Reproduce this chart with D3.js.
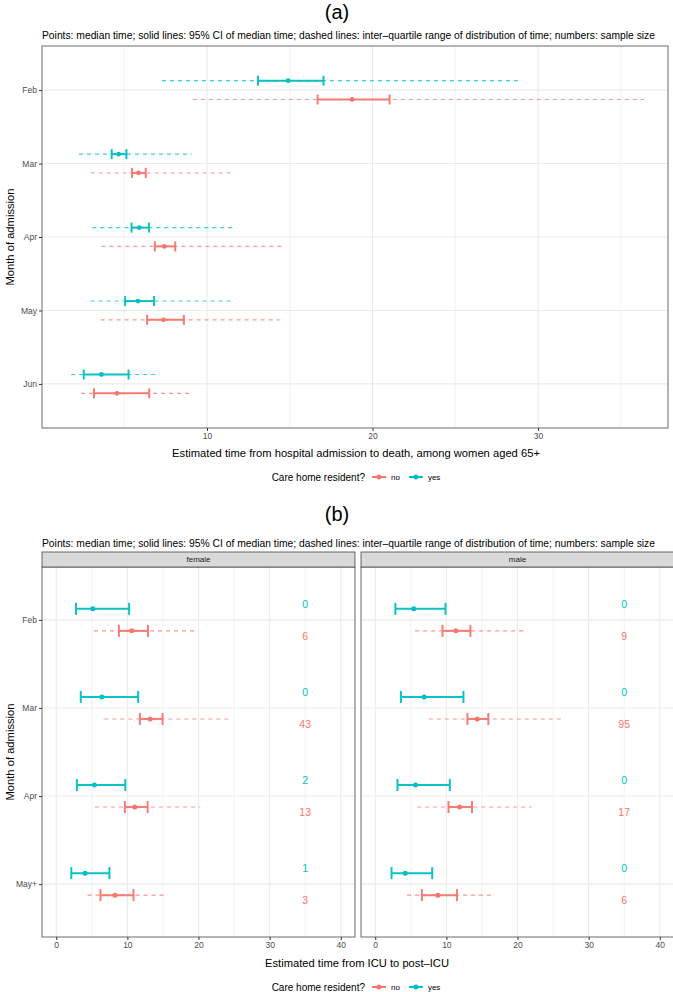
<!DOCTYPE html>
<html><head><meta charset="utf-8">
<script src="https://cdn.jsdelivr.net/npm/d3@7"></script>
<style>body{margin:0;background:#fff}svg{display:block;font-family:"Liberation Sans",Arial,sans-serif}</style>
</head><body><svg id="c" width="673" height="992"></svg>
<script>
// ---------- DATA ----------
const groups = ["no", "yes"];
const groupColors = ["#F8766D", "#00BFC4"];
const subtitle = "Points: median time; solid lines: 95% CI of median time; dashed lines: inter\u2013quartile range of distribution of time; numbers: sample size";

// panel (a)
const monthsA = ["Feb", "Mar", "Apr", "May", "Jun"];
const aYesMedian = [14.9, 4.66, 5.91, 5.83, 3.62];
const aYesCiLo   = [13.08, 4.24, 5.44, 5.05, 2.55];
const aYesCiHi   = [17.04, 5.13, 6.49, 6.80, 5.26];
const aYesIqrLo  = [7.27, 2.26, 3.07, 2.97, 1.79];
const aYesIqrHi  = [29.0, 9.07, 11.52, 11.46, 7.09];
const aNoMedian  = [18.76, 5.86, 7.42, 7.37, 4.56];
const aNoCiLo    = [16.68, 5.47, 6.85, 6.38, 3.17];
const aNoCiHi    = [21.03, 6.30, 8.08, 8.60, 6.51];
const aNoIqrLo   = [9.14, 2.97, 3.62, 3.57, 2.39];
const aNoIqrHi   = [36.4, 11.44, 14.49, 14.38, 8.91];
const aTicks = [10, 20, 30];
const aMinor = [5, 15, 25, 35];
const aDomain = [0.03, 37.85];

// panel (b)
const monthsB = ["Feb", "Mar", "Apr", "May+"];
const facets = ["female", "male"];
const fYesMedian = [5.13, 6.4, 5.37, 4.05];
const fYesCiLo   = [2.78, 3.45, 2.9, 2.12];
const fYesCiHi   = [10.25, 11.52, 9.71, 7.48];
const fYesN      = [0, 0, 2, 1];
const fNoMedian  = [10.61, 13.2, 11.04, 8.27];
const fNoCiLo    = [8.81, 11.76, 9.65, 6.22];
const fNoCiHi    = [12.9, 14.95, 12.85, 10.86];
const fNoIqrLo   = [5.31, 6.76, 5.43, 4.41];
const fNoIqrHi   = [19.41, 24.4, 20.25, 15.14];
const fNoN       = [6, 43, 13, 3];
const mYesMedian = [5.42, 6.87, 5.66, 4.22];
const mYesCiLo   = [2.83, 3.61, 3.13, 2.29];
const mYesCiHi   = [9.88, 12.4, 10.49, 8.01];
const mYesN      = [0, 0, 0, 0];
const mNoMedian  = [11.33, 14.34, 11.87, 8.8];
const mNoCiLo    = [9.46, 12.96, 10.3, 6.56];
const mNoCiHi    = [13.38, 15.9, 13.6, 11.5];
const mNoIqrLo   = [5.6, 7.53, 5.9, 4.46];
const mNoIqrHi   = [20.9, 26.2, 21.98, 16.33];
const mNoN       = [9, 95, 17, 6];
const bTicks = [0, 10, 20, 30, 40];
const bMinor = [5, 15, 25, 35];
const bDomain = [-2, 42];
const labelX = 35;

// ---------- BUILD ROWS ----------
function rows(months, med, lo, hi, ilo, ihi, n, g) {
  return months.map((m, i) => ({month: m, group: g, med: med[i], lo: lo[i], hi: hi[i],
    ilo: ilo ? ilo[i] : null, ihi: ihi ? ihi[i] : null, n: n ? n[i] : null}));
}
const dataA = [
  ...rows(monthsA, aNoMedian, aNoCiLo, aNoCiHi, aNoIqrLo, aNoIqrHi, null, "no"),
  ...rows(monthsA, aYesMedian, aYesCiLo, aYesCiHi, aYesIqrLo, aYesIqrHi, null, "yes")
];
const dataF = [
  ...rows(monthsB, fNoMedian, fNoCiLo, fNoCiHi, fNoIqrLo, fNoIqrHi, fNoN, "no"),
  ...rows(monthsB, fYesMedian, fYesCiLo, fYesCiHi, null, null, fYesN, "yes")
];
const dataM = [
  ...rows(monthsB, mNoMedian, mNoCiLo, mNoCiHi, mNoIqrLo, mNoIqrHi, mNoN, "no"),
  ...rows(monthsB, mYesMedian, mYesCiLo, mYesCiHi, null, null, mYesN, "yes")
];

const svg = d3.select("#c");
const color = d3.scaleOrdinal(groups, groupColors);
const tickCol = "#4D4D4D", borderCol = "#333333", gridCol = "#EBEBEB";

function panel(g, x, y, data, opts) {
  const [x0, x1] = x.range(), [y0, y1] = y.range();
  const step = y.step();
  const dodge = d => (d.group === "yes" ? -1 : 1) * step * opts.dodge;
  g.selectAll(".mg").data(opts.minor).join("line")
    .attr("x1", d => x(d)).attr("x2", d => x(d)).attr("y1", y0).attr("y2", y1)
    .attr("stroke", gridCol).attr("stroke-width", 0.6);
  g.selectAll(".Mg").data(opts.ticks).join("line")
    .attr("x1", d => x(d)).attr("x2", d => x(d)).attr("y1", y0).attr("y2", y1)
    .attr("stroke", gridCol).attr("stroke-width", 1.1);
  g.selectAll(".hg").data(y.domain()).join("line")
    .attr("x1", x0).attr("x2", x1).attr("y1", d => y(d)).attr("y2", d => y(d))
    .attr("stroke", gridCol).attr("stroke-width", 1.1);
  g.selectAll(".iqr").data(data.filter(d => d.ilo != null)).join("line")
    .attr("x1", d => x(d.ilo)).attr("x2", d => x(d.ihi))
    .attr("y1", d => y(d.month) + dodge(d)).attr("y2", d => y(d.month) + dodge(d))
    .attr("stroke", d => color(d.group)).attr("stroke-width", 1.1)
    .attr("stroke-dasharray", "4,4").attr("opacity", 0.75);
  const ci = g.selectAll(".ci").data(data).join("g").attr("opacity", 0.95);
  ci.append("line").attr("x1", d => x(d.lo)).attr("x2", d => x(d.hi))
    .attr("y1", d => y(d.month) + dodge(d)).attr("y2", d => y(d.month) + dodge(d))
    .attr("stroke", d => color(d.group)).attr("stroke-width", 2);
  ["lo", "hi"].forEach(k => {
    ci.append("line").attr("x1", d => x(d[k])).attr("x2", d => x(d[k]))
      .attr("y1", d => y(d.month) + dodge(d) - opts.cap).attr("y2", d => y(d.month) + dodge(d) + opts.cap)
      .attr("stroke", d => color(d.group)).attr("stroke-width", 2);
  });
  g.selectAll(".pt").data(data).join("circle")
    .attr("cx", d => x(d.med)).attr("cy", d => y(d.month) + dodge(d)).attr("r", opts.r)
    .attr("fill", d => color(d.group));
  if (opts.labels) {
    g.selectAll(".nl").data(data).join("text")
      .attr("x", x(labelX)).attr("y", d => y(d.month) + (d.group === "yes" ? -1 : 1) * step * 0.185)
      .attr("text-anchor", "middle").attr("dominant-baseline", "central")
      .attr("font-size", 10.5).attr("fill", d => color(d.group)).text(d => d.n);
  }
  g.append("rect").attr("x", x0).attr("y", y0).attr("width", x1 - x0).attr("height", y1 - y0)
    .attr("fill", "none").attr("stroke", borderCol).attr("stroke-width", 0.9).attr("opacity", 0.8);
  const xa = g.append("g").attr("transform", `translate(0,${y1})`)
    .call(d3.axisBottom(x).tickValues(opts.ticks).tickSize(3).tickPadding(2));
  xa.select(".domain").remove();
  xa.selectAll("line").attr("stroke", "#333");
  xa.selectAll("text").attr("fill", tickCol).attr("font-size", 8.5).attr("font-family", "Liberation Sans, Arial, sans-serif");
  if (opts.yaxis) {
    const ya = g.append("g").attr("transform", `translate(${x0},0)`)
      .call(d3.axisLeft(y).tickSize(3).tickPadding(2));
    ya.select(".domain").remove();
    ya.selectAll("line").attr("stroke", "#333");
    ya.selectAll("text").attr("fill", tickCol).attr("font-size", 8.5).attr("font-family", "Liberation Sans, Arial, sans-serif");
  }
}

function legend(cy, cx) {
  const lg = svg.append("g");
  const t = lg.append("text").attr("y", cy).attr("dominant-baseline", "central")
    .attr("font-size", 10).attr("fill", "#000").text("Care home resident?");
  let w = t.node().getComputedTextLength() + 7;
  groups.forEach(gname => {
    const it = lg.append("g").attr("transform", `translate(${w},0)`);
    it.append("line").attr("x1", 0).attr("x2", 14).attr("y1", cy).attr("y2", cy)
      .attr("stroke", color(gname)).attr("stroke-width", 2);
    it.append("circle").attr("cx", 7).attr("cy", cy).attr("r", 2.5).attr("fill", color(gname));
    const tt = it.append("text").attr("x", 19).attr("y", cy).attr("dominant-baseline", "central")
      .attr("font-size", 8).attr("fill", "#000").text(gname);
    w += 19 + tt.node().getComputedTextLength() + 9;
  });
  lg.attr("transform", `translate(${cx - (w - 9) / 2},0)`);
}

// ---------- PANEL (a) ----------
svg.append("text").attr("x", 337).attr("y", 12).attr("text-anchor", "middle")
  .attr("dominant-baseline", "central").attr("font-size", 20).text("(a)");
svg.append("text").attr("x", 42).attr("y", 35).attr("dominant-baseline", "central")
  .attr("font-size", 10.3).text(subtitle);
const xA = d3.scaleLinear().domain(aDomain).range([42, 668]);
const yA = d3.scalePoint().domain(monthsA).range([46, 428]).padding(0.6);
panel(svg.append("g"), xA, yA, dataA, {ticks: aTicks, minor: aMinor, dodge: 0.128, cap: 5, r: 2.4, yaxis: true});
svg.append("text").attr("x", 356).attr("y", 453).attr("text-anchor", "middle")
  .attr("dominant-baseline", "central").attr("font-size", 11.2).text("Estimated time from hospital admission to death, among women aged 65+");
svg.append("text").attr("transform", `translate(10,237) rotate(-90)`).attr("text-anchor", "middle")
  .attr("dominant-baseline", "central").attr("font-size", 11.2).text("Month of admission");
legend(477, 356);

// ---------- PANEL (b) ----------
svg.append("text").attr("x", 337).attr("y", 514).attr("text-anchor", "middle")
  .attr("dominant-baseline", "central").attr("font-size", 20).text("(b)");
svg.append("text").attr("x", 42).attr("y", 543).attr("dominant-baseline", "central")
  .attr("font-size", 10.3).text(subtitle);
const yB = d3.scalePoint().domain(monthsB).range([567, 937]).padding(0.6);
const facetRanges = [[42, 355], [361, 674]];
const facetData = [dataF, dataM];
facets.forEach((f, i) => {
  const xB = d3.scaleLinear().domain(bDomain).range(facetRanges[i]);
  const g = svg.append("g");
  panel(g, xB, yB, facetData[i], {ticks: bTicks, minor: bMinor, dodge: 0.125, cap: 6, r: 2.5, yaxis: i === 0, labels: true});
  const [s0, s1] = facetRanges[i];
  g.append("rect").attr("x", s0).attr("y", 552).attr("width", s1 - s0).attr("height", 15)
    .attr("fill", "#D9D9D9").attr("stroke", borderCol).attr("stroke-width", 0.9).attr("stroke-opacity", 0.8);
  g.append("text").attr("x", (s0 + s1) / 2).attr("y", 559.5).attr("text-anchor", "middle")
    .attr("dominant-baseline", "central").attr("font-size", 8).attr("fill", "#1A1A1A").text(f);
});
svg.append("text").attr("x", 357).attr("y", 963).attr("text-anchor", "middle")
  .attr("dominant-baseline", "central").attr("font-size", 11.2).text("Estimated time from ICU to post\u2013ICU");
svg.append("text").attr("transform", `translate(10,752) rotate(-90)`).attr("text-anchor", "middle")
  .attr("dominant-baseline", "central").attr("font-size", 11.2).text("Month of admission");
legend(987, 356);
</script></body></html>
